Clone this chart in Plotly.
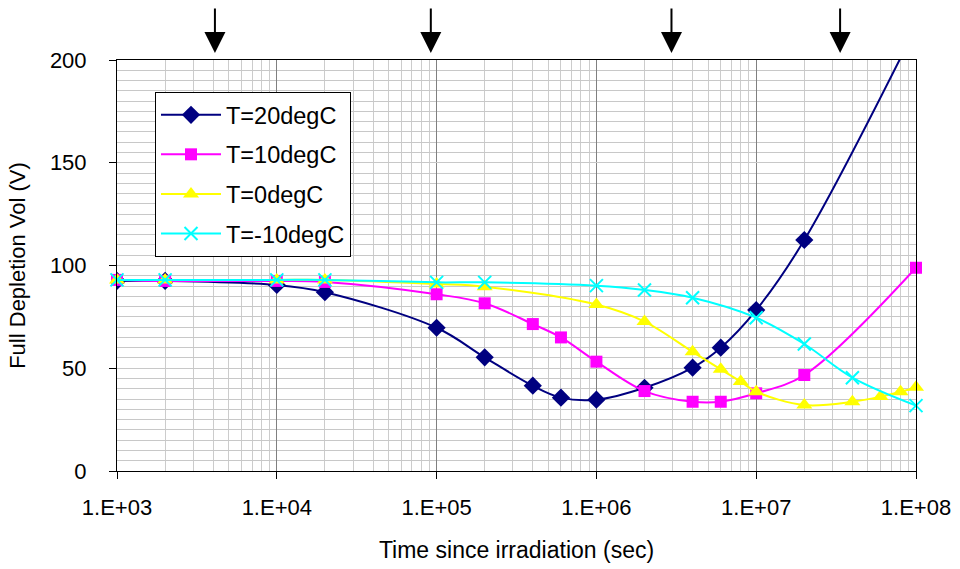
import numpy as np
import plotly.graph_objects as go

# ---- data ----
t_20 = [1e3, 2e3, 1e4, 2e4, 1e5, 2e5, 4e5, 6e5, 1e6, 2e6, 4e6, 6e6, 1e7, 2e7, 1e8]
v_20 = [92.5, 92.5, 90.5, 87, 69.7, 55.3, 41.5, 35.7, 34.7, 40.5, 50.3, 60, 78.3, 112.4, 216]

t_10 = [1e3, 2e3, 1e4, 2e4, 1e5, 2e5, 4e5, 6e5, 1e6, 2e6, 4e6, 6e6, 1e7, 2e7, 1e8]
v_10 = [93, 92.5, 92.5, 92, 86, 81.6, 71.5, 65, 53.2, 38.9, 33.7, 33.7, 37.8, 46.7, 98.9]

t_0 = [1e3, 2e3, 1e4, 2e4, 1e5, 2e5, 1e6, 2e6, 4e6, 6e6, 8e6, 1e7, 2e7, 4e7, 6e7, 8e7, 1e8]
v_0 = [93, 93, 93, 93, 91, 89.7, 81, 72.7, 58, 49.5, 43.5, 38.6, 32.1, 33.7, 36.2, 38.6, 40.7]

t_m10 = [1e3, 2e3, 1e4, 2e4, 1e5, 2e5, 1e6, 2e6, 4e6, 1e7, 2e7, 4e7, 1e8]
v_m10 = [93, 93, 93, 93, 91.8, 91.8, 90.2, 88.1, 84.3, 74.6, 61.8, 45.4, 31.8]

series_names = ["T=20degC", "T=10degC", "T=0degC", "T=-10degC"]
arrow_times = [4.1e3, 9.2e4, 2.95e6, 3.35e7]

x_tickvals = [1e3, 1e4, 1e5, 1e6, 1e7, 1e8]
x_ticktext = ["1.E+03", "1.E+04", "1.E+05", "1.E+06", "1.E+07", "1.E+08"]
y_tickvals = [0, 50, 100, 150, 200]

FONT = "Liberation Sans, Arial, sans-serif"

fig = go.Figure()

fig.add_trace(go.Scatter(
    x=t_20, y=v_20, name=series_names[0], mode="lines+markers", legendgroup="a",
    line=dict(color="#000080", width=2, shape="spline", smoothing=1),
    marker=dict(symbol="diamond", size=14, color="#000080"),
    cliponaxis=True,
))
fig.add_trace(go.Scatter(
    x=t_10, y=v_10, name=series_names[1], mode="lines+markers", legendgroup="b",
    line=dict(color="#FF00FF", width=2, shape="spline", smoothing=1),
    marker=dict(symbol="square", size=12, color="#FF00FF"),
    cliponaxis=False,
))
fig.add_trace(go.Scatter(
    x=t_0, y=v_0, name=series_names[2], mode="lines+markers", legendgroup="c",
    line=dict(color="#FFFF00", width=2, shape="spline", smoothing=1),
    marker=dict(symbol="triangle-up", size=14, color="#FFFF00"),
    cliponaxis=False,
))
fig.add_trace(go.Scatter(
    x=t_m10, y=v_m10, name=series_names[3], mode="lines+markers", legendgroup="d",
    line=dict(color="#00FFFF", width=2, shape="spline", smoothing=1),
    marker=dict(symbol="x-thin", size=13, color="#00FFFF",
                line=dict(color="#00FFFF", width=2)),
    cliponaxis=False,
))

for t in arrow_times:
    fig.add_annotation(
        x=np.log10(t), xref="x", y=1 + 7 / 411, yref="paper",
        ax=0, ay=-46, text="", showarrow=True,
        arrowhead=2, arrowsize=2.1, arrowwidth=2, arrowcolor="black",
    )

fig.update_layout(
    width=960, height=569,
    margin=dict(l=117, r=44, t=60, b=98),
    paper_bgcolor="white", plot_bgcolor="white",
    font=dict(family=FONT, size=22, color="black"),
    showlegend=True,
    legend=dict(
        x=(155 - 117) / 799, y=(471 - 92) / 411, xanchor="left", yanchor="top",
        bgcolor="white", bordercolor="black", borderwidth=1,
        font=dict(family=FONT, size=23.5, color="black"),
        tracegroupgap=6, itemwidth=60,
    ),
)

fig.update_xaxes(
    type="log", range=[2.99999, 8.00001], automargin=False,
    tickmode="array", tickvals=x_tickvals, ticktext=x_ticktext,
    ticks="outside", ticklen=7, tickcolor="black", tickwidth=1,
    showline=True, linecolor="black", linewidth=1, mirror=True,
    showgrid=True, gridcolor="#808080", gridwidth=1,
    minor=dict(dtick="D1", showgrid=True, gridcolor="#cccccc", gridwidth=1, ticks=""),
    zeroline=False,
    ticklabelstandoff=10,
    title=dict(text="Time since irradiation (sec)", font=dict(size=23), standoff=22),
    tickfont=dict(size=22),
)
fig.update_yaxes(
    range=[0, 200], tickmode="array", tickvals=y_tickvals, automargin=False,
    ticks="outside", ticklen=7, tickcolor="black", tickwidth=1,
    showline=True, linecolor="black", linewidth=1, mirror=True,
    showgrid=True, gridcolor="#c8c8c8", gridwidth=1,
    minor=dict(dtick=5, showgrid=True, gridcolor="#c8c8c8", gridwidth=1, ticks=""),
    zeroline=False,
    ticklabelstandoff=18,
    title=dict(text="Full Depletion Vol (V)", font=dict(size=22), standoff=18),
    tickfont=dict(size=22),
)

fig.write_html("out.html")
